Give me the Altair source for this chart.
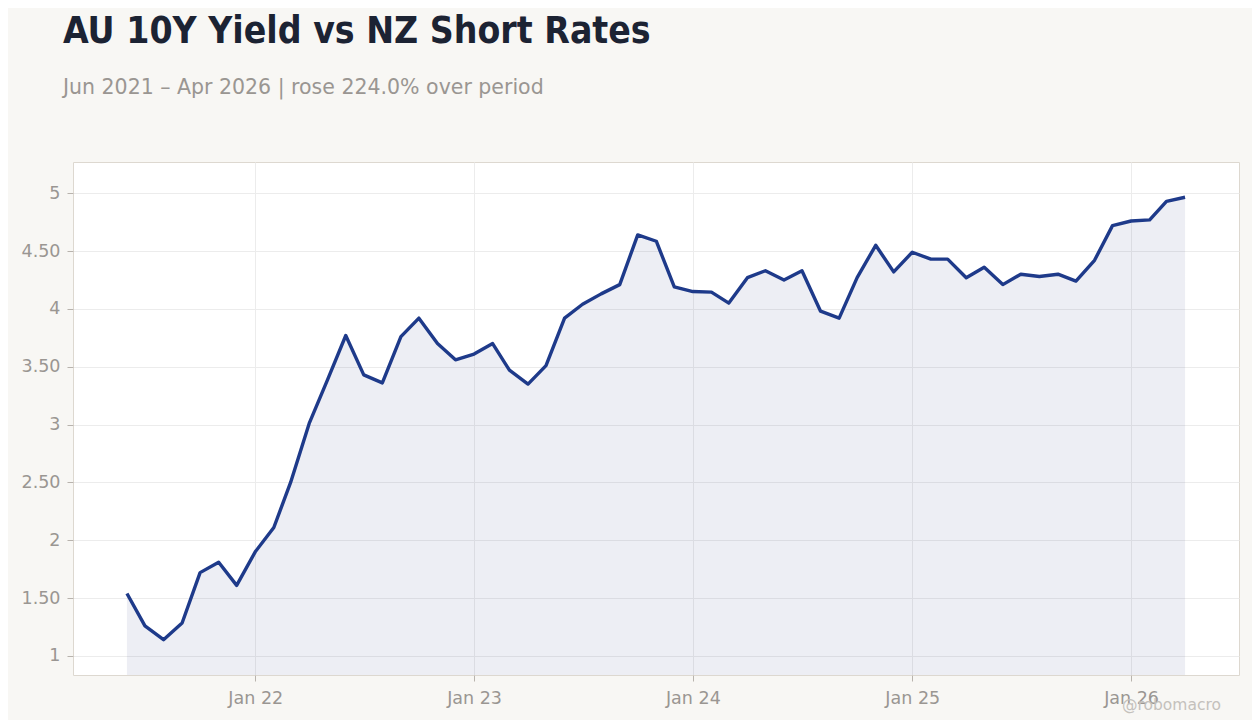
import pandas as pd
import altair as alt

# monthly observations, Jun 2021 - Apr 2026
months = pd.date_range("2021-06-01", "2026-04-01", freq="MS").strftime("%Y-%m-%d").tolist()
values = [
    1.54, 1.26, 1.14, 1.285, 1.72, 1.81, 1.61,
    1.90, 2.11, 2.50, 3.01, 3.38, 3.77, 3.43, 3.36, 3.76, 3.92, 3.70, 3.56,
    3.61, 3.70, 3.47, 3.35, 3.51, 3.92, 4.04, 4.13, 4.21, 4.64, 4.585, 4.19,
    4.15, 4.145, 4.05, 4.27, 4.33, 4.25, 4.33, 3.98, 3.92, 4.27, 4.55, 4.32,
    4.49, 4.43, 4.43, 4.27, 4.36, 4.21, 4.30, 4.28, 4.30, 4.24, 4.42, 4.72,
    4.76, 4.77, 4.93, 4.965,
]
tick_years = [2022, 2023, 2024, 2025, 2026]

df = pd.DataFrame({"date": months, "value": values})

LINE = "#1e3a8a"
GREY = "#9a9692"
FONT = "DejaVu Sans"

x = alt.X(
    "date:T",
    scale=alt.Scale(
        type="utc",
        domain=[alt.DateTime(year=2021, month=3, date=3, utc=True),
                alt.DateTime(year=2026, month=6, date=30, utc=True)],
    ),
    axis=alt.Axis(
        values=[alt.DateTime(year=yr, month=1, date=1, utc=True) for yr in tick_years],
        format="%b %y", title=None, domain=False, tickColor="#b8b3ad", tickSize=6,
        labelColor=GREY, labelFontSize=17.5, labelPadding=8, labelFont=FONT,
        gridColor="#ececec",
    ),
)
y = alt.Y(
    "value:Q",
    scale=alt.Scale(domain=[0.835, 5.27], nice=False, zero=False),
    axis=alt.Axis(
        values=[1, 1.5, 2, 2.5, 3, 3.5, 4, 4.5, 5],
        labelExpr="datum.value % 1 == 0 ? format(datum.value, 'd') : format(datum.value, '.2f')",
        title=None, domain=False, tickColor="#b8b3ad", tickSize=6,
        labelColor=GREY, labelFontSize=17.5, labelPadding=7, labelFont=FONT,
        gridColor="#ececec",
    ),
)

base = alt.Chart(df)
area = base.mark_area(color="#2a3a80", opacity=0.085).encode(x=x, y=y, y2=alt.datum(0.835))
line = base.mark_line(color=LINE, strokeWidth=3.4, strokeJoin="round").encode(x=x, y=y)

watermark = alt.Chart(pd.DataFrame({"t": ["@robomacro"]})).mark_text(
    align="right", baseline="alphabetic", fontSize=15.5, color="#c4c1bc", font=FONT
).encode(text="t:N", x=alt.value(1148), y=alt.value(548))

chart = alt.layer(area, line, watermark).properties(
    width=1166,
    height=513,
    padding={"left": 65, "top": 154, "right": 13, "bottom": 45},
    autosize=alt.AutoSizeParams(type="none"),
    background="#f8f7f4",
    title=alt.TitleParams(
        text="AU 10Y Yield vs NZ Short Rates",
        subtitle="Jun 2021 – Apr 2026 | rose 224.0% over period",
        anchor="start", frame="group", dx=-10, offset=63,
        font="DejaVu Sans Condensed", fontSize=37, fontWeight="bold", color="#1c2333",
        subtitleFont=FONT, subtitleFontSize=20.5, subtitleColor=GREY,
        subtitlePadding=27,
    ),
).configure_view(
    fill="white", stroke="#ddd8d0", strokeWidth=1
)

chart.save("out.html", embed_options={"renderer": "svg", "actions": False})
